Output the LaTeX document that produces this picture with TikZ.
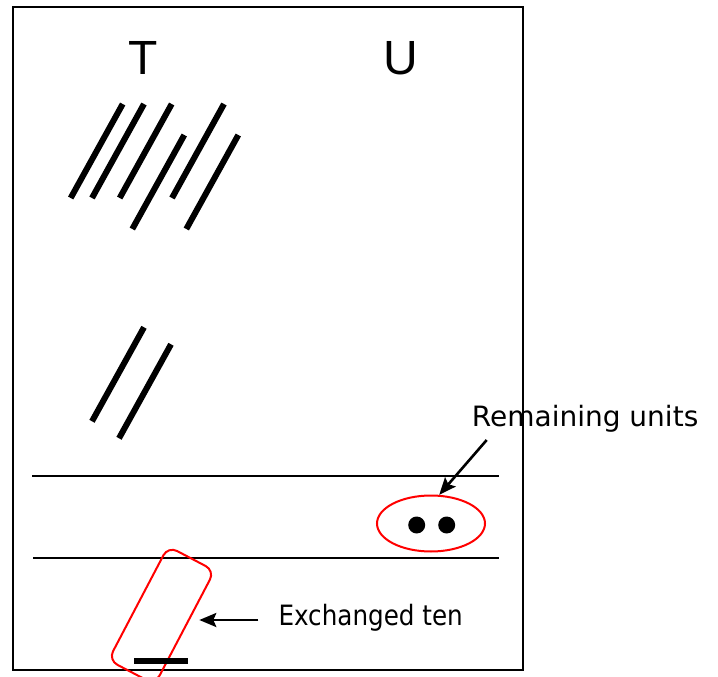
\documentclass[tikz,border=0pt]{standalone}
\usepackage{fontspec}
\setmainfont{DejaVu Sans}
\newfontfamily\arialfont{Liberation Sans}
\newfontfamily\narrowfont[FakeStretch=0.88]{DejaVu Sans}
\usetikzlibrary{shapes.geometric,arrows.meta}
\begin{document}
\begin{tikzpicture}[x=1pt,y=-1pt,
		rule/.style={line width=1.4pt},
		tally/.style={line width=6pt},
		pointer/.style={-{Stealth[length=17pt,width=14pt,inset=3pt]},line width=2.6pt},
		redring/.style={draw=red,line width=2pt,inner sep=0pt},
		colhead/.style={font=\arialfont\fontsize{48}{48}\selectfont,anchor=base,inner sep=0pt},
		note/.style={anchor=base west,inner sep=0pt}]
			\def\W{718} \def\H{677}
			\useasboundingbox (0,0) rectangle (\W,\H);
			\clip (0,0) rectangle (\W,\H);
			\draw[rule] (13,7) rectangle (523,670);
			\node[colhead] (tens) at (142.7,75) {T};
			\node[colhead] (ones) at (401,75) {U};
			%===========================================
			\foreach \p in {(122.7,104),(144,104),(171.7,104),(184.3,135),(224,104),(238.3,135),(144,327.3),(171,344.3)}
				\draw[tally] \p -- ++(-52,94);
			\draw[rule] (32,476) -- (499,476);
			\draw[rule] (33,558) -- (499,558);
			%===========================================
			\node[redring,ellipse,minimum width=108pt,minimum height=56pt] (ring) at (431,523.5) {};
			\foreach \x/\n in {416.7/a,446.7/b}
				\node[circle,fill,minimum size=17pt,inner sep=0pt] (dot\n) at (\x,525) {};
			\node[redring,rounded corners=10pt,rotate=-27.7,minimum width=52.5pt,minimum height=128.5pt] (exch) at (161.5,615.4) {};
			\fill (134,658) rectangle (188,664);
			%===========================================
			\node[note,font=\fontsize{28}{30}\selectfont] (remlbl) at (471.7,426.5) {Remaining units};
			\node[note,font=\narrowfont\fontsize{28}{30}\selectfont] (exlbl) at (278.3,625.7) {Exchanged ten};
			\coordinate (remtail) at (486.7,440);
			\coordinate (extip) at (199.3,620);
			\draw[pointer] (remtail) -- (ring.74);
			\draw[pointer] ([xshift=-20pt]exlbl.west |- extip) -- (extip);
	\end{tikzpicture}
\end{document}
